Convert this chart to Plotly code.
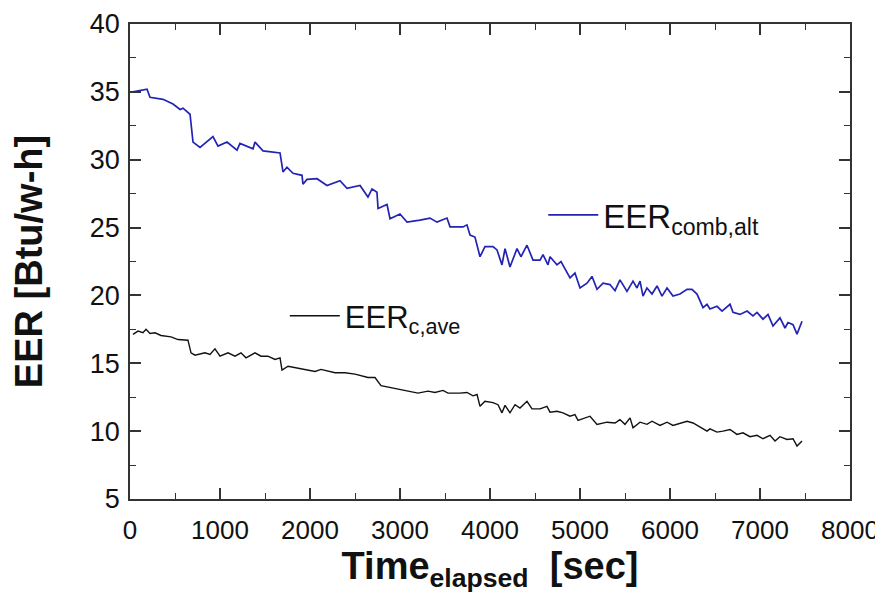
import plotly.graph_objects as go

# Blue series: EER_comb,alt
t_comb = [33, 189, 222, 367, 478, 556, 589, 667, 700, 778, 922, 978, 1078, 1189, 1222,
          1367, 1389, 1478, 1667, 1700, 1744, 1811, 1911, 1922, 1967, 2078, 2189, 2333,
          2411, 2556, 2644, 2689, 2744, 2756, 2856, 2889, 3000, 3078, 3222, 3333, 3411,
          3522, 3556, 3700, 3744, 3778, 3833, 3889, 3944, 4033, 4078, 4133, 4167, 4222,
          4300, 4344, 4411, 4478, 4556, 4589, 4644, 4667, 4744, 4789, 4889, 4944, 5000,
          5078, 5133, 5189, 5256, 5333, 5389, 5444, 5522, 5589, 5633, 5667, 5700, 5744,
          5800, 5856, 5911, 5967, 6033, 6111, 6189, 6244, 6300, 6367, 6411, 6444, 6522,
          6578, 6667, 6700, 6778, 6856, 6922, 6967, 7033, 7089, 7144, 7222, 7278, 7311,
          7367, 7411, 7467]
eer_comb = [35.0, 35.2, 34.6, 34.45, 34.1, 33.7, 33.8, 33.35, 31.3, 30.9, 31.7, 31.0, 31.3,
            30.7, 31.2, 30.8, 31.3, 30.65, 30.5, 29.1, 29.45, 29.0, 28.85, 28.2, 28.55,
            28.6, 28.1, 28.45, 27.9, 28.1, 27.25, 27.85, 27.6, 26.4, 26.7, 25.65, 26.0,
            25.4, 25.55, 25.7, 25.4, 25.7, 25.05, 25.05, 25.2, 24.45, 24.3, 22.85, 23.6,
            23.6, 23.35, 22.25, 23.45, 22.1, 23.45, 22.85, 23.7, 22.6, 22.6, 23.0, 22.25,
            22.85, 22.25, 22.5, 21.3, 21.65, 20.55, 20.9, 21.4, 20.45, 20.9, 20.8, 20.35,
            21.15, 20.3, 21.05, 20.55, 21.05, 19.95, 20.55, 20.1, 20.7, 19.95, 20.55,
            19.95, 20.1, 20.45, 20.45, 20.1, 19.1, 19.35, 19.0, 19.2, 18.85, 19.35, 18.75,
            18.6, 18.85, 18.5, 18.75, 18.25, 18.6, 17.75, 18.35, 17.6, 18.0, 17.85, 17.15,
            18.1]

# Black series: EER_c,ave
t_cave = [33, 89, 144, 178, 222, 278, 344, 456, 533, 589, 644, 678, 722, 833, 889, 944,
          1000, 1089, 1167, 1233, 1289, 1389, 1456, 1533, 1611, 1667, 1689, 1756, 1900,
          2056, 2122, 2278, 2389, 2500, 2644, 2722, 2789, 2900, 3011, 3089, 3200, 3311,
          3389, 3478, 3533, 3667, 3744, 3811, 3856, 3889, 3944, 4033, 4089, 4133, 4167,
          4222, 4278, 4333, 4411, 4467, 4556, 4633, 4667, 4744, 4811, 4889, 4944, 4978,
          5111, 5189, 5300, 5389, 5444, 5500, 5556, 5589, 5667, 5744, 5800, 5889, 5967,
          6033, 6189, 6256, 6411, 6444, 6522, 6589, 6667, 6744, 6811, 6889, 6967, 7033,
          7111, 7167, 7222, 7300, 7367, 7411, 7467]
eer_cave = [17.13, 17.37, 17.25, 17.5, 17.2, 17.25, 17.05, 16.95, 16.75, 16.75, 16.7,
            15.77, 15.6, 15.77, 15.65, 16.06, 15.52, 15.77, 15.52, 15.77, 15.4, 15.77,
            15.52, 15.52, 15.28, 15.4, 14.5, 14.78, 14.6, 14.4, 14.55, 14.3, 14.3, 14.2,
            13.95, 13.95, 13.35, 13.2, 13.05, 12.9, 12.8, 12.95, 12.85, 13.0, 12.8, 12.8,
            12.85, 12.6, 12.7, 11.83, 12.2, 12.1, 11.95, 11.35, 11.9, 11.35, 11.95, 11.7,
            12.2, 11.64, 11.64, 11.83, 11.4, 11.46, 11.35, 11.1, 11.22, 10.8, 11.1, 10.5,
            10.66, 10.6, 10.85, 10.5, 10.98, 10.25, 10.66, 10.5, 10.73, 10.42, 10.66,
            10.42, 10.73, 10.6, 10.0, 10.17, 9.93, 10.0, 10.12, 9.76, 9.88, 9.59, 9.69,
            9.44, 9.69, 9.27, 9.59, 9.39, 9.44, 8.9, 9.27]

x_ticks = [0, 1000, 2000, 3000, 4000, 5000, 6000, 7000, 8000]
y_ticks = [5, 10, 15, 20, 25, 30, 35, 40]

FONT = "Liberation Sans, Arial, sans-serif"
AXC = "#333333"

fig = go.Figure()
fig.add_trace(go.Scatter(x=t_comb, y=eer_comb, mode="lines",
                         line=dict(color="#2323b4", width=1.7),
                         name="EER<sub>comb,alt</sub>", legend="legend"))
fig.add_trace(go.Scatter(x=t_cave, y=eer_cave, mode="lines",
                         line=dict(color="#111111", width=1.4),
                         name="EER<sub>c,ave</sub>", legend="legend2"))

axis_common = dict(showline=True, linecolor=AXC, linewidth=1.5, mirror="ticks",
                   ticks="inside", tickcolor=AXC, tickwidth=1.5, ticklen=11,
                   showgrid=False, zeroline=False, automargin=False,
                   ticklabeloverflow="allow")

# the page body adds an 8 px offset, so the figure is sized to fit the window
fig.update_layout(
    width=875, height=597,
    margin=dict(l=122, r=33, t=16, b=106),
    paper_bgcolor="white", plot_bgcolor="white",
    xaxis=dict(range=[0, 8000], tickvals=x_ticks, ticklabelstandoff=7,
               tickfont=dict(family=FONT, size=26, color="#111111"),
               minor=dict(dtick=500, ticks="inside", ticklen=6, tickcolor=AXC, tickwidth=1.2),
               title=dict(text="<b>Time<sub>elapsed</sub>  [sec]</b>",
                          font=dict(family=FONT, size=38, color="#111111"), standoff=6),
               **axis_common),
    yaxis=dict(range=[5, 40], tickvals=y_ticks, ticklabelstandoff=3,
               tickfont=dict(family=FONT, size=27, color="#111111"),
               minor=dict(dtick=2.5, ticks="inside", ticklen=6, tickcolor=AXC, tickwidth=1.2),
               title=dict(text="<b>EER [Btu/w-h]</b>",
                          font=dict(family=FONT, size=38, color="#111111"), standoff=36),
               **axis_common),
    showlegend=True,
    legend=dict(x=0.574, y=0.598, xanchor="left", yanchor="middle",
                bgcolor="rgba(0,0,0,0)", borderwidth=0, itemwidth=50,
                font=dict(family=FONT, size=33, color="#111111")),
    legend2=dict(x=0.215, y=0.385, xanchor="left", yanchor="middle",
                 bgcolor="rgba(0,0,0,0)", borderwidth=0, itemwidth=50,
                 font=dict(family=FONT, size=31, color="#111111")),
)

fig.write_html("out.html")
